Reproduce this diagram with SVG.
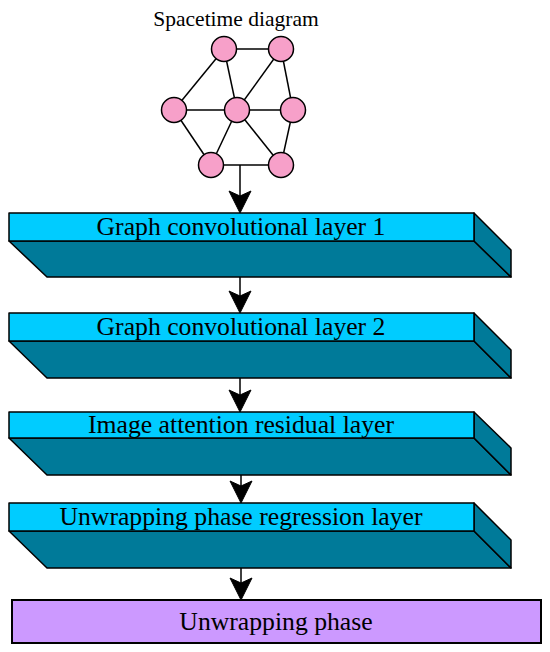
<svg xmlns="http://www.w3.org/2000/svg" width="550" height="652" viewBox="0 0 550 652">
<style>
.t{font-family:"Liberation Serif","Times New Roman",serif;fill:#000;text-anchor:middle}
.face{fill:#00ccff;stroke:#000;stroke-width:1.5;stroke-linejoin:round}
.dark{fill:#007a99;stroke:#000;stroke-width:1.5;stroke-linejoin:round}
.node{fill:#f7a0c9;stroke:#000;stroke-width:1.5}
.edge{stroke:#000;stroke-width:1.5;fill:none}
.head{fill:#000;stroke:#000;stroke-width:1}
</style>
<rect width="550" height="652" fill="#fff"/>
<g id="spacetime">
<text class="t" x="236" y="26" font-size="21.5">Spacetime diagram</text>
<g class="edge">
<line x1="224" y1="49" x2="281" y2="49"/>
<line x1="224" y1="49" x2="174" y2="110"/>
<line x1="224" y1="49" x2="237" y2="110"/>
<line x1="281" y1="49" x2="237" y2="110"/>
<line x1="281" y1="49" x2="293" y2="110"/>
<line x1="174" y1="110" x2="293" y2="110"/>
<line x1="174" y1="110" x2="211" y2="165"/>
<line x1="237" y1="110" x2="211" y2="165"/>
<line x1="237" y1="110" x2="281" y2="165"/>
<line x1="293" y1="110" x2="281" y2="165"/>
<line x1="211" y1="165" x2="281" y2="165"/>
</g>
<circle class="node" cx="224" cy="49" r="12.5"/>
<circle class="node" cx="281" cy="49" r="12.5"/>
<circle class="node" cx="174" cy="110" r="12.5"/>
<circle class="node" cx="237" cy="110" r="12.5"/>
<circle class="node" cx="293" cy="110" r="12.5"/>
<circle class="node" cx="211" cy="165" r="12.5"/>
<circle class="node" cx="281" cy="165" r="12.5"/>
</g>
<g id="layer1">
<polygon class="dark" points="9,241 474,241 511,277 47,277"/>
<polygon class="dark" points="474,213 511,250 511,277 474,241"/>
<rect class="face" x="9" y="213" width="465" height="28"/>
<text class="t" x="241" y="235" font-size="25.7">Graph convolutional layer 1</text>
</g>
<g id="layer2">
<polygon class="dark" points="9,341 474,341 511,378 47,378"/>
<polygon class="dark" points="474,313 511,350 511,378 474,341"/>
<rect class="face" x="9" y="313" width="465" height="28"/>
<text class="t" x="241" y="335" font-size="25.7">Graph convolutional layer 2</text>
</g>
<g id="layer3">
<polygon class="dark" points="9,438 474,438 511,475 47,475"/>
<polygon class="dark" points="474,412 511,448 511,475 474,438"/>
<rect class="face" x="9" y="412" width="465" height="26"/>
<text class="t" x="241" y="433" font-size="25.7">Image attention residual layer</text>
</g>
<g id="layer4">
<polygon class="dark" points="9,531 474,531 511,568 47,568"/>
<polygon class="dark" points="474,503 511,540 511,568 474,531"/>
<rect class="face" x="9" y="503" width="465" height="28"/>
<text class="t" x="241" y="525" font-size="25.7">Unwrapping phase regression layer</text>
</g>
<g id="output">
<rect x="12" y="600" width="529" height="43" fill="#cc99ff" stroke="#000" stroke-width="2"/>
<text class="t" x="276" y="630" font-size="25.7">Unwrapping phase</text>
</g>
<g id="connectors">
<line class="edge" x1="240" y1="165" x2="240" y2="196"/>
<path class="head" d="M229,191 L240,196 L251,191 L240,213 Z"/>
<line class="edge" x1="240" y1="277" x2="240" y2="296"/>
<path class="head" d="M229,291 L240,296 L251,291 L240,313 Z"/>
<line class="edge" x1="240" y1="378" x2="240" y2="395"/>
<path class="head" d="M229,390 L240,395 L251,390 L240,412 Z"/>
<line class="edge" x1="241" y1="475" x2="241" y2="486"/>
<path class="head" d="M230,481 L241,486 L252,481 L241,503 Z"/>
<line class="edge" x1="241" y1="568" x2="241" y2="583"/>
<path class="head" d="M230,578 L241,583 L252,578 L241,600 Z"/>
</g>
</svg>
